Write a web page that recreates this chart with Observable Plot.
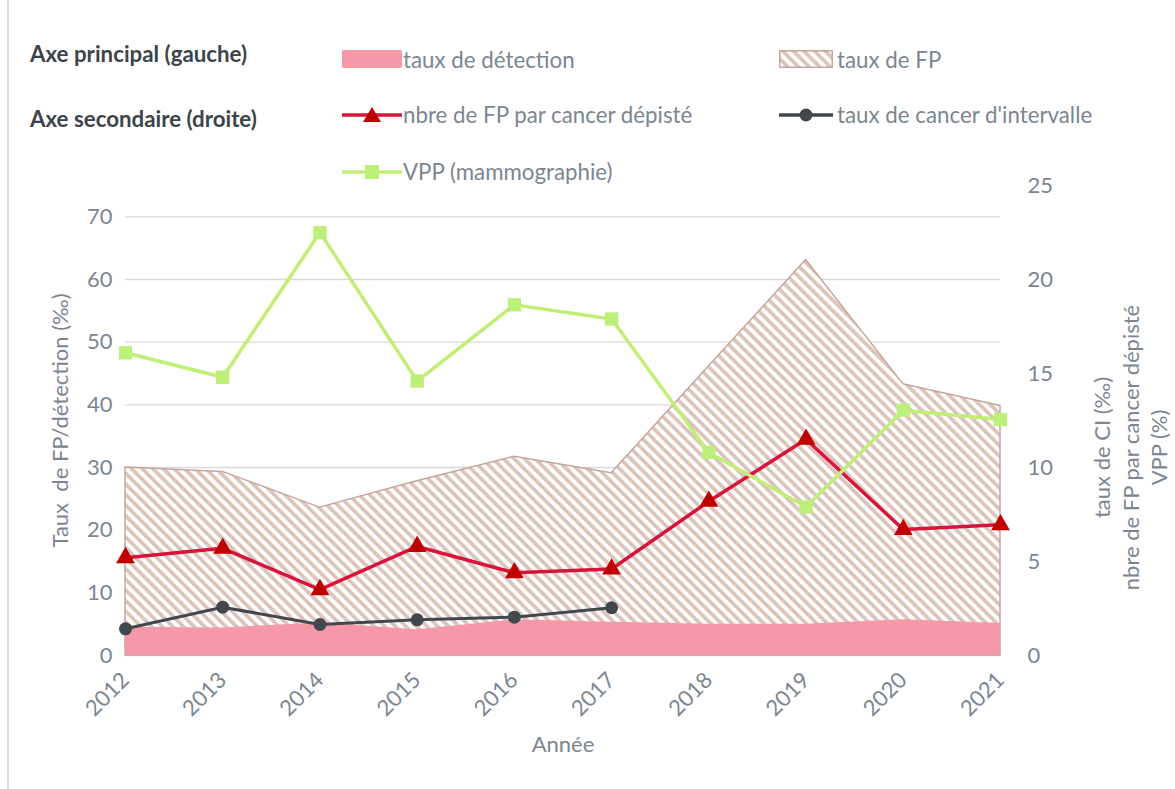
<!DOCTYPE html>
<html><head><meta charset="utf-8">
<script src="https://cdn.jsdelivr.net/npm/d3@7"></script>
<script src="https://cdn.jsdelivr.net/npm/@observablehq/plot@0.6"></script>
<style>
body{margin:0;background:#fff;font-family:Lato, "Open Sans", sans-serif;}
#wrap{position:relative;width:1175px;height:789px;overflow:hidden;background:#fff}
#legend{position:relative;height:170px;z-index:2}
.lbl{position:absolute;font-size:22.3px;color:#7b8691;line-height:1;transform:translateY(-50%);white-space:nowrap}
.bold{font-weight:bold;color:#3b444b}
.sw{position:absolute;transform:translateY(-50%)}
#border{position:absolute;left:7px;top:0;width:1.5px;height:789px;background:#dcdcdc}
#chart{position:relative;z-index:1}
</style></head>
<body><div id="wrap"><div id="border"></div><div id="legend"></div><div id="chart"></div></div>
<script>
const years = [2012, 2013, 2014, 2015, 2016, 2017, 2018, 2019, 2020, 2021];
const tauxDetection = [4.5, 4.4, 5.2, 4.1, 5.7, 5.3, 5.0, 5.0, 5.7, 5.1];
const tauxFP = [30.0, 29.3, 23.6, 27.8, 31.7, 29.1, 46.1, 63.1, 43.3, 39.8];
const nbreFPparCancer = [5.2, 5.7, 3.5, 5.8, 4.4, 4.6, 8.2, 11.5, 6.7, 6.95];
const tauxCI = [1.42, 2.57, 1.65, 1.9, 2.04, 2.54];
const vpp = [16.1, 14.8, 22.5, 14.6, 18.65, 17.9, 10.8, 7.9, 13.05, 12.55];
const leftTicks = [0, 10, 20, 30, 40, 50, 60, 70];
const rightTicks = [0, 5, 10, 15, 20, 25];
const seriesNames = ["taux de détection", "taux de FP", "nbre de FP par cancer dépisté", "taux de cancer d'intervalle", "VPP (mammographie)"];
const axisGroupNames = ["Axe principal (gauche)", "Axe secondaire (droite)"];
const leftTitle = "Taux  de FP/détection (‰)";
const rightTitle = "taux de CI (‰)\nnbre de FP par cancer dépisté\nVPP (%)";
const xTitle = "Année";

const C = {det:"#f599a8", fpStroke:"#c6a69c", hatch:"#dcc4bc", nbreLine:"#d9143a", nbreMark:"#c00000", ci:"#41474c", vppLine:"#c1ee74", vppMark:"#bdf078"};
const ratio = 3; // right axis (0-25) mapped onto left axis (0-75)

// Legend (HTML)
const leg = document.getElementById("legend");
function add(html){ leg.insertAdjacentHTML("beforeend", html); }
add(`<div class="lbl bold" style="left:30px;top:54px">${axisGroupNames[0]}</div>`);
add(`<div class="lbl bold" style="left:30px;top:119px">${axisGroupNames[1]}</div>`);
const hatchDef = id => `<defs><pattern id="${id}" patternUnits="userSpaceOnUse" width="7.5" height="7.5" patternTransform="rotate(-45)"><rect width="7.5" height="7.5" fill="#fff"/><rect width="3.7" height="7.5" fill="${C.hatch}"/></pattern></defs>`;
add(`<svg class="sw" style="left:342px;top:59px" width="60" height="18"><rect x="0" y="0" width="60" height="18" rx="2" fill="${C.det}"/></svg>`);
add(`<div class="lbl" style="left:403px;top:60px">${seriesNames[0]}</div>`);
add(`<svg class="sw" style="left:779px;top:59px" width="54" height="18">${hatchDef("hatchL")}<rect x="0.75" y="0.75" width="52.5" height="16.5" fill="url(#hatchL)" stroke="${C.fpStroke}" stroke-width="1.5"/></svg>`);
add(`<div class="lbl" style="left:837px;top:60px">${seriesNames[1]}</div>`);
add(`<svg class="sw" style="left:342px;top:115px" width="60" height="20"><line x1="0" x2="60" y1="10" y2="10" stroke="${C.nbreLine}" stroke-width="3.5"/><path d="M21,17 L39,17 L30,2 Z" fill="${C.nbreMark}"/></svg>`);
add(`<div class="lbl" style="left:403px;top:115px">${seriesNames[2]}</div>`);
add(`<svg class="sw" style="left:779px;top:115px" width="54" height="20"><line x1="0" x2="54" y1="10" y2="10" stroke="${C.ci}" stroke-width="3.5"/><circle cx="27" cy="10" r="6.5" fill="${C.ci}"/></svg>`);
add(`<div class="lbl" style="left:837px;top:115px">${seriesNames[3]}</div>`);
add(`<svg class="sw" style="left:342px;top:172px" width="60" height="20"><line x1="0" x2="60" y1="10" y2="10" stroke="${C.vppLine}" stroke-width="3.5"/><rect x="23" y="3" width="14" height="14" fill="${C.vppMark}"/></svg>`);
add(`<div class="lbl" style="left:403px;top:172px">${seriesNames[4]}</div>`);

const rows = years.map((y, i) => ({year: y, det: tauxDetection[i], fp: tauxFP[i], nbre: nbreFPparCancer[i], vpp: vpp[i]}));
const ciRows = tauxCI.map((v, i) => ({year: years[i], ci: v}));

const plot = Plot.plot({
  width: 1175, height: 619,
  marginTop: 15, marginBottom: 134, marginLeft: 125, marginRight: 175,
  style: {fontFamily: "Lato, 'Open Sans', sans-serif", fontSize: "22px", color: "#7b8691", background: "transparent", overflow: "visible"},
  x: {type: "linear", domain: [2012, 2021]},
  y: {domain: [0, 75]},
  marks: [
    Plot.gridY(leftTicks, {stroke: "#d9d9d9", strokeOpacity: 1, strokeWidth: 1.4}),
    Plot.areaY(rows, {x: "year", y: "fp", fill: "url(#hatchP)", stroke: C.fpStroke, strokeWidth: 1.5}),
    Plot.areaY(rows, {x: "year", y: "det", fill: C.det}),
    Plot.line(ciRows, {x: "year", y: d => d.ci * ratio, stroke: C.ci, strokeWidth: 3}),
    Plot.dot(ciRows, {x: "year", y: d => d.ci * ratio, r: 6.5, fill: C.ci, symbol: "circle"}),
    Plot.line(rows, {x: "year", y: d => d.nbre * ratio, stroke: C.nbreLine, strokeWidth: 3.5}),
    Plot.dot(rows, {x: "year", y: d => d.nbre * ratio, r: 7, fill: C.nbreMark, symbol: "triangle"}),
    Plot.line(rows, {x: "year", y: d => d.vpp * ratio, stroke: C.vppLine, strokeWidth: 3.5}),
    Plot.dot(rows, {x: "year", y: d => d.vpp * ratio, r: 7.5, fill: C.vppMark, symbol: "square"}),
    Plot.axisY({ticks: leftTicks, anchor: "left", tickSize: 0, tickPadding: 13, tickFormat: d => String(d), label: null}),
    Plot.axisY({ticks: rightTicks.map(v => v * ratio), anchor: "right", tickSize: 0, tickPadding: 27, tickFormat: d => String(Math.round(d / ratio)), label: null}),
    Plot.axisX({ticks: years, tickFormat: d => String(d), tickRotate: -45, tickSize: 0, tickPadding: 21, label: null}),
    Plot.text([leftTitle], {frameAnchor: "left", dx: -65, rotate: -90, textAnchor: "middle", text: d => d}),
    Plot.text([rightTitle], {frameAnchor: "right", dx: 129, dy: 27, rotate: -90, textAnchor: "middle", lineAnchor: "middle", text: d => d, lineHeight: 1.3}),
    Plot.text([xTitle], {frameAnchor: "bottom", dy: 96, text: d => d})
  ]
});
d3.select(plot).insert("defs", ":first-child").html(`<pattern id="hatchP" patternUnits="userSpaceOnUse" width="7.5" height="7.5" patternTransform="rotate(-45)"><rect width="7.5" height="7.5" fill="#fff"/><rect width="3.7" height="7.5" fill="${C.hatch}"/></pattern>`);
document.getElementById("chart").appendChild(plot);
</script>
</body></html>
